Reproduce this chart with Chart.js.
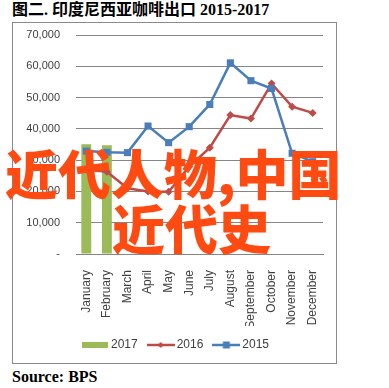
<!DOCTYPE html>
<html>
<head>
<meta charset="utf-8">
<script src="https://cdn.jsdelivr.net/npm/chart.js@4/dist/chart.umd.min.js"></script>
<style>
  html, body { margin: 0; padding: 0; background: #fff; }
  body { width: 389px; height: 388px; position: relative; overflow: hidden; }
  #title { position: absolute; left: 12px; top: 0px; line-height: 20px; font-size: 16px; font-weight: bold;
           font-family: "Liberation Serif", "Noto Sans CJK SC", serif; color: #000; white-space: nowrap; }
  #frame { position: absolute; left: 12px; top: 22px; width: 325px; height: 342px; border: 1px solid #8a8a8a; box-sizing: border-box; }
  #c { position: absolute; left: 13px; top: 23px; }
  #source { position: absolute; left: 12px; top: 367px; line-height: 20px; font-size: 16px; font-weight: bold;
            font-family: "Liberation Serif", serif; color: #000; white-space: nowrap; }
  .wm { position: absolute; font-family: "Noto Sans CJK SC", sans-serif; font-weight: 900; color: #ff4a12;
        font-size: 53px; line-height: 54px; white-space: nowrap; z-index: 5; }
</style>
</head>
<body>
<div id="title">图二. 印度尼西亚咖啡出口 2015-2017</div>
<div id="frame"></div>
<canvas id="c" width="324" height="338" style="width:324px;height:338px"></canvas>
<div id="source">Source: BPS</div>
<div class="wm" style="left:5px; top:145px;">近代人物,中国</div>
<div class="wm" style="left:112px; top:200px;">近代史</div>
<script>
const months = ["January","February","March","April","May","June","July","August","September","October","November","December"];
const seriesNames = ["2017","2016","2015"];
const values2017 = [35100, 34800, null, null, null, null, null, null, null, null, null, null];
const values2016 = [27000, 26300, 21000, 20000, 19900, 27900, 34000, 44400, 43300, 54500, 47100, 45100];
const values2015 = [32900, 32500, 32400, 40900, 35600, 40700, 47800, 61100, 55400, 52900, 32200, 29500];
const yTicks = [0, 10000, 20000, 30000, 40000, 50000, 60000, 70000];

const GREEN = '#9bbb59', RED = '#be4b48', BLUE = '#4a7ebb';

function legendIcon(kind, color) {
  const cv = document.createElement('canvas');
  cv.width = 28; cv.height = 10;
  const g = cv.getContext('2d');
  if (kind === 'bar') {
    g.fillStyle = color; g.fillRect(1, 2, 26, 6);
  } else {
    g.strokeStyle = color; g.lineWidth = 2.5;
    g.beginPath(); g.moveTo(0, 5); g.lineTo(28, 5); g.stroke();
    g.fillStyle = color;
    if (kind === 'rect') { g.fillRect(10.5, 1.5, 7, 7); }
    else { g.beginPath(); g.moveTo(14, 2); g.lineTo(17, 5); g.lineTo(14, 8); g.lineTo(11, 5); g.closePath(); g.fill(); }
  }
  return cv;
}
const icons = [legendIcon('bar', GREEN), legendIcon('diamond', RED), legendIcon('rect', BLUE)];

const shiftLegend = {
  id: 'shiftLegend',
  afterLayout(chart) {
    if (chart.legend) { chart.legend.left += 9; chart.legend.right += 9; }
  }
};

new Chart(document.getElementById('c'), {
  data: {
    labels: months,
    datasets: [
      { type: 'bar', label: seriesNames[0], data: values2017, backgroundColor: GREEN, borderWidth: 0,
        categoryPercentage: 0.8, barPercentage: 0.6, order: 3 },
      { type: 'line', label: seriesNames[1], data: values2016, borderColor: RED, backgroundColor: RED, borderWidth: 2.5,
        pointStyle: 'rectRot', pointRadius: 4, pointBorderWidth: 0, tension: 0, order: 2 },
      { type: 'line', label: seriesNames[2], data: values2015, borderColor: BLUE, backgroundColor: BLUE, borderWidth: 2.5,
        pointStyle: 'rect', pointRadius: 5, pointBorderWidth: 0, tension: 0, order: 1 }
    ]
  },
  plugins: [shiftLegend],
  options: {
    responsive: false,
    animation: false,
    devicePixelRatio: 1,
    layout: { padding: { left: 0, right: 14, top: 12, bottom: 0 } },
    plugins: {
      tooltip: { enabled: false },
      legend: {
        position: 'bottom',
        labels: {
          usePointStyle: true,
          pointStyleWidth: 20,
          padding: 13,
          color: '#404040',
          font: { family: 'Liberation Sans', size: 12 },
          generateLabels: (chart) => seriesNames.map((n, i) => ({
            text: n, datasetIndex: i, pointStyle: icons[i], fillStyle: 'transparent',
            strokeStyle: 'transparent', lineWidth: 0, hidden: false, fontColor: '#404040'
          }))
        }
      }
    },
    scales: {
      x: {
        grid: { display: false },
        border: { display: true, color: '#868686', width: 1 },
        ticks: { autoSkip: false, minRotation: 90, maxRotation: 90, padding: 8, color: '#404040',
                 font: { family: 'Liberation Sans', size: 12 } },
        afterFit: (s) => { s.height = 72; }
      },
      y: {
        min: 0, max: 70000,
        afterBuildTicks: (s) => { s.ticks = yTicks.map(v => ({ value: v })); },
        grid: { color: '#868686', drawTicks: true, tickLength: 12, tickColor: 'rgba(0,0,0,0)', lineWidth: 1 },
        border: { display: false },
        ticks: { padding: 4, color: '#404040', font: { family: 'Liberation Sans', size: 11 },
                 callback: (v) => v === 0 ? '-' : v.toLocaleString('en-US') },
        afterFit: (s) => { s.width = 63; }
      }
    }
  }
});
</script>
</body>
</html>
